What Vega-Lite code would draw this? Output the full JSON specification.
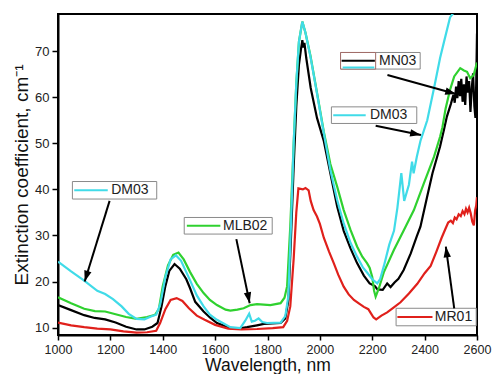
{
  "$schema": "https://vega.github.io/schema/vega-lite/v6.json",
  "width": 419,
  "height": 321,
  "autosize": {"type": "none"},
  "padding": {"left": 58, "top": 14, "right": 15, "bottom": 39},
  "background": "white",
  "config": {
    "font": "Liberation Sans",
    "view": {"stroke": "black", "strokeWidth": 2}
  },
  "datasets": {
    "spectra": [
      {"s":"MN03","x":1000,"y":14.9},{"s":"MN03","x":1050,"y":13.8},{"s":"MN03","x":1100,"y":12.7},{"s":"MN03","x":1140,"y":12.1},{"s":"MN03","x":1180,"y":11.8},{"s":"MN03","x":1220,"y":11.1},{"s":"MN03","x":1260,"y":10.2},{"s":"MN03","x":1300,"y":9.6},{"s":"MN03","x":1330,"y":9.6},{"s":"MN03","x":1360,"y":10.2},{"s":"MN03","x":1380,"y":11},{"s":"MN03","x":1395,"y":14.5},{"s":"MN03","x":1410,"y":19},{"s":"MN03","x":1425,"y":22.3},{"s":"MN03","x":1445,"y":23.8},{"s":"MN03","x":1465,"y":22.8},{"s":"MN03","x":1490,"y":20.5},{"s":"MN03","x":1504,"y":18.6},{"s":"MN03","x":1524,"y":15.6},{"s":"MN03","x":1556,"y":13.5},{"s":"MN03","x":1580,"y":12.2},{"s":"MN03","x":1607,"y":11.0},{"s":"MN03","x":1658,"y":9.9},{"s":"MN03","x":1700,"y":9.9},{"s":"MN03","x":1722,"y":10.1},{"s":"MN03","x":1760,"y":10.5},{"s":"MN03","x":1786,"y":10.8},{"s":"MN03","x":1850,"y":11.0},{"s":"MN03","x":1868,"y":12},{"s":"MN03","x":1880,"y":16},{"s":"MN03","x":1890,"y":30},{"s":"MN03","x":1900,"y":45},{"s":"MN03","x":1910,"y":58},{"s":"MN03","x":1920,"y":67},{"s":"MN03","x":1928,"y":70.5},{"s":"MN03","x":1933,"y":72.4},{"s":"MN03","x":1937,"y":70.8},{"s":"MN03","x":1941,"y":71.8},{"s":"MN03","x":1948,"y":68.5},{"s":"MN03","x":1965,"y":62},{"s":"MN03","x":1989,"y":55.5},{"s":"MN03","x":2015,"y":50.5},{"s":"MN03","x":2040,"y":43.5},{"s":"MN03","x":2066,"y":36.3},{"s":"MN03","x":2091,"y":31.0},{"s":"MN03","x":2117,"y":27.2},{"s":"MN03","x":2142,"y":24.0},{"s":"MN03","x":2168,"y":21.3},{"s":"MN03","x":2190,"y":19.6},{"s":"MN03","x":2210,"y":19.0},{"s":"MN03","x":2220,"y":18.3},{"s":"MN03","x":2240,"y":18.2},{"s":"MN03","x":2257,"y":19.6},{"s":"MN03","x":2270,"y":18.8},{"s":"MN03","x":2285,"y":19.8},{"s":"MN03","x":2300,"y":20.6},{"s":"MN03","x":2320,"y":22.5},{"s":"MN03","x":2347,"y":26.1},{"s":"MN03","x":2370,"y":29.8},{"s":"MN03","x":2384,"y":31.9},{"s":"MN03","x":2410,"y":38.5},{"s":"MN03","x":2430,"y":43.5},{"s":"MN03","x":2449,"y":47.3},{"s":"MN03","x":2459,"y":49.3},{"s":"MN03","x":2474,"y":53},{"s":"MN03","x":2485,"y":55.8},{"s":"MN03","x":2500,"y":58.5},{"s":"MN03","x":2510,"y":60.5},{"s":"MN03","x":2515,"y":58.8},{"s":"MN03","x":2520,"y":62.3},{"s":"MN03","x":2525,"y":59.8},{"s":"MN03","x":2530,"y":63.5},{"s":"MN03","x":2535,"y":60.2},{"s":"MN03","x":2540,"y":64.0},{"s":"MN03","x":2545,"y":59.0},{"s":"MN03","x":2550,"y":62.8},{"s":"MN03","x":2555,"y":58.3},{"s":"MN03","x":2560,"y":64.5},{"s":"MN03","x":2565,"y":61},{"s":"MN03","x":2570,"y":63.5},{"s":"MN03","x":2575,"y":56.8},{"s":"MN03","x":2580,"y":62},{"s":"MN03","x":2585,"y":65.2},{"s":"MN03","x":2590,"y":58},{"s":"MN03","x":2594,"y":55.5},{"s":"MN03","x":2597,"y":63},{"s":"MN03","x":2600,"y":73.8},

      {"s":"MR01","x":1000,"y":11.1},{"s":"MR01","x":1050,"y":10.5},{"s":"MR01","x":1100,"y":10.1},{"s":"MR01","x":1150,"y":9.8},{"s":"MR01","x":1200,"y":9.6},{"s":"MR01","x":1250,"y":9.2},{"s":"MR01","x":1300,"y":8.9},{"s":"MR01","x":1340,"y":9.0},{"s":"MR01","x":1375,"y":9.3},{"s":"MR01","x":1390,"y":11},{"s":"MR01","x":1410,"y":14},{"s":"MR01","x":1430,"y":16},{"s":"MR01","x":1453,"y":16.4},{"s":"MR01","x":1475,"y":15.8},{"s":"MR01","x":1500,"y":14.2},{"s":"MR01","x":1530,"y":12.6},{"s":"MR01","x":1560,"y":11.7},{"s":"MR01","x":1600,"y":10.6},{"s":"MR01","x":1650,"y":9.8},{"s":"MR01","x":1700,"y":9.6},{"s":"MR01","x":1760,"y":9.7},{"s":"MR01","x":1820,"y":9.9},{"s":"MR01","x":1860,"y":10.1},{"s":"MR01","x":1875,"y":11.5},{"s":"MR01","x":1887,"y":14.6},{"s":"MR01","x":1900,"y":25},{"s":"MR01","x":1910,"y":35},{"s":"MR01","x":1918,"y":40.2},{"s":"MR01","x":1935,"y":40.0},{"s":"MR01","x":1945,"y":40.3},{"s":"MR01","x":1957,"y":39.8},{"s":"MR01","x":1965,"y":37.5},{"s":"MR01","x":1976,"y":35.5},{"s":"MR01","x":1989,"y":34.1},{"s":"MR01","x":2000,"y":32.5},{"s":"MR01","x":2015,"y":29.5},{"s":"MR01","x":2035,"y":26.5},{"s":"MR01","x":2053,"y":24.0},{"s":"MR01","x":2070,"y":21.5},{"s":"MR01","x":2091,"y":18.9},{"s":"MR01","x":2110,"y":17.2},{"s":"MR01","x":2130,"y":16.0},{"s":"MR01","x":2150,"y":15.2},{"s":"MR01","x":2168,"y":14.5},{"s":"MR01","x":2185,"y":14.0},{"s":"MR01","x":2195,"y":13.1},{"s":"MR01","x":2205,"y":12.2},{"s":"MR01","x":2215,"y":11.8},{"s":"MR01","x":2235,"y":12.6},{"s":"MR01","x":2257,"y":13.3},{"s":"MR01","x":2280,"y":14.3},{"s":"MR01","x":2308,"y":15.5},{"s":"MR01","x":2340,"y":17.4},{"s":"MR01","x":2372,"y":19.5},{"s":"MR01","x":2400,"y":21.8},{"s":"MR01","x":2423,"y":23.4},{"s":"MR01","x":2445,"y":26.5},{"s":"MR01","x":2465,"y":29.5},{"s":"MR01","x":2480,"y":31.5},{"s":"MR01","x":2490,"y":32.8},{"s":"MR01","x":2500,"y":33.2},{"s":"MR01","x":2508,"y":32.7},{"s":"MR01","x":2515,"y":33.9},{"s":"MR01","x":2522,"y":33.5},{"s":"MR01","x":2530,"y":34.6},{"s":"MR01","x":2538,"y":34.2},{"s":"MR01","x":2545,"y":35.3},{"s":"MR01","x":2552,"y":34.6},{"s":"MR01","x":2558,"y":35.8},{"s":"MR01","x":2564,"y":35.0},{"s":"MR01","x":2570,"y":36.0},{"s":"MR01","x":2576,"y":34.8},{"s":"MR01","x":2582,"y":33.0},{"s":"MR01","x":2588,"y":32.2},{"s":"MR01","x":2593,"y":35.5},{"s":"MR01","x":2597,"y":36.5},{"s":"MR01","x":2600,"y":38.3},

      {"s":"MLB02","x":1000,"y":16.6},{"s":"MLB02","x":1050,"y":15.3},{"s":"MLB02","x":1100,"y":14.1},{"s":"MLB02","x":1141,"y":13.6},{"s":"MLB02","x":1180,"y":13.5},{"s":"MLB02","x":1220,"y":12.9},{"s":"MLB02","x":1260,"y":12.3},{"s":"MLB02","x":1300,"y":11.9},{"s":"MLB02","x":1340,"y":12.3},{"s":"MLB02","x":1371,"y":12.8},{"s":"MLB02","x":1385,"y":14},{"s":"MLB02","x":1400,"y":19},{"s":"MLB02","x":1420,"y":23.5},{"s":"MLB02","x":1440,"y":25.8},{"s":"MLB02","x":1460,"y":26.3},{"s":"MLB02","x":1480,"y":24.8},{"s":"MLB02","x":1504,"y":22.1},{"s":"MLB02","x":1530,"y":19.5},{"s":"MLB02","x":1556,"y":17.5},{"s":"MLB02","x":1580,"y":16},{"s":"MLB02","x":1607,"y":14.9},{"s":"MLB02","x":1640,"y":13.9},{"s":"MLB02","x":1658,"y":13.7},{"s":"MLB02","x":1685,"y":13.9},{"s":"MLB02","x":1709,"y":14.2},{"s":"MLB02","x":1735,"y":14.9},{"s":"MLB02","x":1760,"y":15.1},{"s":"MLB02","x":1811,"y":14.9},{"s":"MLB02","x":1850,"y":15.3},{"s":"MLB02","x":1865,"y":16.5},{"s":"MLB02","x":1875,"y":19},{"s":"MLB02","x":1887,"y":32},{"s":"MLB02","x":1900,"y":50},{"s":"MLB02","x":1910,"y":63},{"s":"MLB02","x":1920,"y":72},{"s":"MLB02","x":1933,"y":76.4},{"s":"MLB02","x":1945,"y":74},{"s":"MLB02","x":1964,"y":69},{"s":"MLB02","x":1989,"y":61},{"s":"MLB02","x":2015,"y":52.5},{"s":"MLB02","x":2040,"y":45.5},{"s":"MLB02","x":2066,"y":40.6},{"s":"MLB02","x":2091,"y":35.5},{"s":"MLB02","x":2117,"y":31.2},{"s":"MLB02","x":2142,"y":27.6},{"s":"MLB02","x":2162,"y":25.4},{"s":"MLB02","x":2180,"y":24.0},{"s":"MLB02","x":2190,"y":23.0},{"s":"MLB02","x":2200,"y":21},{"s":"MLB02","x":2207,"y":18},{"s":"MLB02","x":2213,"y":16.7},{"s":"MLB02","x":2225,"y":18.5},{"s":"MLB02","x":2244,"y":22},{"s":"MLB02","x":2283,"y":26.9},{"s":"MLB02","x":2321,"y":31.2},{"s":"MLB02","x":2359,"y":35.5},{"s":"MLB02","x":2397,"y":41.3},{"s":"MLB02","x":2436,"y":47.1},{"s":"MLB02","x":2459,"y":51.4},{"s":"MLB02","x":2468,"y":53.5},{"s":"MLB02","x":2480,"y":57.5},{"s":"MLB02","x":2497,"y":61.6},{"s":"MLB02","x":2513,"y":64.5},{"s":"MLB02","x":2536,"y":66.3},{"s":"MLB02","x":2550,"y":65.8},{"s":"MLB02","x":2562,"y":65.5},{"s":"MLB02","x":2574,"y":64.1},{"s":"MLB02","x":2587,"y":64.8},{"s":"MLB02","x":2600,"y":67.5},

      {"s":"DM03","x":1000,"y":24.3},{"s":"DM03","x":1050,"y":22.2},{"s":"DM03","x":1100,"y":20.2},{"s":"DM03","x":1150,"y":18.0},{"s":"DM03","x":1180,"y":17.3},{"s":"DM03","x":1210,"y":16.2},{"s":"DM03","x":1243,"y":14.6},{"s":"DM03","x":1270,"y":13.0},{"s":"DM03","x":1300,"y":11.9},{"s":"DM03","x":1330,"y":11.8},{"s":"DM03","x":1355,"y":12.4},{"s":"DM03","x":1375,"y":12.8},{"s":"DM03","x":1390,"y":15},{"s":"DM03","x":1410,"y":21},{"s":"DM03","x":1430,"y":24.8},{"s":"DM03","x":1450,"y":25.7},{"s":"DM03","x":1470,"y":24.5},{"s":"DM03","x":1504,"y":20.3},{"s":"DM03","x":1530,"y":17},{"s":"DM03","x":1556,"y":14.6},{"s":"DM03","x":1580,"y":12.8},{"s":"DM03","x":1607,"y":11.7},{"s":"DM03","x":1658,"y":10.1},{"s":"DM03","x":1696,"y":9.9},{"s":"DM03","x":1715,"y":11.5},{"s":"DM03","x":1730,"y":13.0},{"s":"DM03","x":1740,"y":11.3},{"s":"DM03","x":1752,"y":11.5},{"s":"DM03","x":1766,"y":12.0},{"s":"DM03","x":1780,"y":11.2},{"s":"DM03","x":1798,"y":11.0},{"s":"DM03","x":1850,"y":11.1},{"s":"DM03","x":1868,"y":12.5},{"s":"DM03","x":1880,"y":17},{"s":"DM03","x":1890,"y":33},{"s":"DM03","x":1900,"y":50},{"s":"DM03","x":1910,"y":63},{"s":"DM03","x":1920,"y":72},{"s":"DM03","x":1933,"y":76.4},{"s":"DM03","x":1945,"y":74},{"s":"DM03","x":1964,"y":68.8},{"s":"DM03","x":1989,"y":60.8},{"s":"DM03","x":2015,"y":52.2},{"s":"DM03","x":2040,"y":44.2},{"s":"DM03","x":2066,"y":37.7},{"s":"DM03","x":2091,"y":32.6},{"s":"DM03","x":2117,"y":28.4},{"s":"DM03","x":2142,"y":25.4},{"s":"DM03","x":2165,"y":23},{"s":"DM03","x":2181,"y":21.9},{"s":"DM03","x":2200,"y":20.5},{"s":"DM03","x":2219,"y":19.6},{"s":"DM03","x":2230,"y":20.5},{"s":"DM03","x":2245,"y":23.5},{"s":"DM03","x":2265,"y":28},{"s":"DM03","x":2283,"y":31},{"s":"DM03","x":2296,"y":36},{"s":"DM03","x":2311,"y":43.5},{"s":"DM03","x":2322,"y":37.5},{"s":"DM03","x":2340,"y":41},{"s":"DM03","x":2352,"y":46},{"s":"DM03","x":2358,"y":43.5},{"s":"DM03","x":2370,"y":47},{"s":"DM03","x":2384,"y":50.5},{"s":"DM03","x":2410,"y":55},{"s":"DM03","x":2436,"y":62},{"s":"DM03","x":2459,"y":68.5},{"s":"DM03","x":2474,"y":72},{"s":"DM03","x":2497,"y":77.3},{"s":"DM03","x":2510,"y":78.3},{"s":"DM03","x":2530,"y":78.5}
    ],
    "boxes": [
      {"label":"DM03a","x":1055,"x2":1377,"y":37.9,"y2":41.7},
      {"label":"MLB02","x":1482,"x2":1818,"y":30.3,"y2":33.9},
      {"label":"MN03","x":2079,"x2":2383,"y":66.1,"y2":69.7},
      {"label":"DM03b","x":2044,"x2":2370,"y":54.3,"y2":57.9},
      {"label":"MR01","x":2291,"x2":2597,"y":10.4,"y2":14.2}
    ],
    "inner": [
      {"x":2079,"x2":2213,"y":66.1,"y2":69.7}
    ],
    "samples": [
      {"s":"DM03","x":1062,"x2":1190,"y":39.8},
      {"s":"MLB02","x":1492,"x2":1620,"y":32.1},
      {"s":"MN03","x":2083,"x2":2210,"y":67.9},
      {"s":"DM03","x":2087,"x2":2208,"y":66.45},
      {"s":"DM03","x":2051,"x2":2175,"y":56.1},
      {"s":"MR01","x":2296,"x2":2430,"y":12.3}
    ],
    "texts": [
      {"t":"DM03","x":1203,"y":39.8},
      {"t":"MLB02","x":1630,"y":32.1},
      {"t":"MN03","x":2226,"y":67.9},
      {"t":"DM03","x":2191,"y":56.1},
      {"t":"MR01","x":2439,"y":12.3}
    ],
    "arrows": [
      {"x":1197,"y":37.5,"x2":1102,"y2":20.0,"angle":197},
      {"x":1681,"y":29.2,"x2":1732,"y2":15.3,"angle":168.3},
      {"x":2258,"y":64.8,"x2":2520,"y2":60.7,"angle":105.5},
      {"x":2213,"y":53.8,"x2":2386,"y2":51.8,"angle":101.3},
      {"x":2513,"y":14.2,"x2":2481,"y2":27.6,"angle":352.3}
    ]
  },
  "layer": [
    {
      "data": {"name": "spectra"},
      "transform": [{"filter": "datum.s === 'MN03'"}],
      "mark": {"type": "line", "strokeWidth": 2.2, "color": "#000000", "clip": true},
      "encoding": {
        "x": {
          "field": "x", "type": "quantitative",
          "scale": {"domain": [1000, 2600], "nice": false, "zero": false},
          "axis": {
            "values": [1000,1100,1200,1300,1400,1500,1600,1700,1800,1900,2000,2100,2200,2300,2400,2500,2600],
            "format": "d",
            "labelExpr": "datum.value % 200 === 0 ? datum.label : ''",
            "tickSize": {"condition": {"test": "datum.value % 200 === 0", "value": 5}, "value": 3},
            "tickColor": "#000", "tickWidth": 1.5,
            "domainColor": "#000", "domainWidth": 2,
            "grid": false,
            "labelFontSize": 12.5, "labelColor": "#222", "labelPadding": 3,
            "labelFlush": false, "labelOverlap": false,
            "title": "Wavelength, nm", "titleFontSize": 17.5, "titleFontWeight": "normal",
            "titleColor": "#111", "titlePadding": 1
          }
        },
        "y": {
          "field": "y", "type": "quantitative",
          "scale": {"domain": [8.4, 78.05], "nice": false, "zero": false},
          "axis": {
            "values": [10,15,20,25,30,35,40,45,50,55,60,65,70,75],
            "labelExpr": "datum.value % 10 === 0 ? datum.label : ''",
            "tickSize": {"condition": {"test": "datum.value % 10 === 0", "value": 6}, "value": 3},
            "tickColor": "#000", "tickWidth": 1.5,
            "domainColor": "#000", "domainWidth": 2,
            "grid": false,
            "labelFontSize": 13, "labelColor": "#222", "labelPadding": 3,
            "labelFlush": false, "labelOverlap": false,
            "title": "Extinction coefficient, cm⁻¹", "titleFontSize": 19, "titleFontWeight": "normal",
            "titleColor": "#111", "titlePadding": 3
          }
        }
      }
    },
    {
      "data": {"name": "spectra"},
      "transform": [{"filter": "datum.s === 'MR01'"}],
      "mark": {"type": "line", "strokeWidth": 2.2, "color": "#e0201b", "clip": true},
      "encoding": {"x": {"field": "x", "type": "quantitative"}, "y": {"field": "y", "type": "quantitative"}}
    },
    {
      "data": {"name": "spectra"},
      "transform": [{"filter": "datum.s === 'MLB02'"}],
      "mark": {"type": "line", "strokeWidth": 2.2, "color": "#2fd12f", "clip": true},
      "encoding": {"x": {"field": "x", "type": "quantitative"}, "y": {"field": "y", "type": "quantitative"}}
    },
    {
      "data": {"name": "spectra"},
      "transform": [{"filter": "datum.s === 'DM03'"}],
      "mark": {"type": "line", "strokeWidth": 2.2, "color": "#40dbe8", "clip": true},
      "encoding": {"x": {"field": "x", "type": "quantitative"}, "y": {"field": "y", "type": "quantitative"}}
    },
    {
      "data": {"name": "boxes"},
      "mark": {"type": "rect", "fill": "white", "stroke": "#8a8a8a", "strokeWidth": 1},
      "encoding": {
        "x": {"field": "x", "type": "quantitative"}, "x2": {"field": "x2"},
        "y": {"field": "y", "type": "quantitative"}, "y2": {"field": "y2"}
      }
    },
    {
      "data": {"name": "inner"},
      "mark": {"type": "rect", "fill": "white", "stroke": "#a06a66", "strokeWidth": 1},
      "encoding": {
        "x": {"field": "x", "type": "quantitative"}, "x2": {"field": "x2"},
        "y": {"field": "y", "type": "quantitative"}, "y2": {"field": "y2"}
      }
    },
    {
      "data": {"name": "samples"},
      "mark": {"type": "rule", "strokeWidth": 2},
      "encoding": {
        "x": {"field": "x", "type": "quantitative"}, "x2": {"field": "x2"},
        "y": {"field": "y", "type": "quantitative"},
        "color": {"field": "s", "type": "nominal", "scale": {"domain": ["MN03","MR01","MLB02","DM03"], "range": ["#000000","#e0201b","#2fd12f","#40dbe8"]}, "legend": null}
      }
    },
    {
      "data": {"name": "texts"},
      "mark": {"type": "text", "align": "left", "baseline": "middle", "fontSize": 14, "color": "#222"},
      "encoding": {
        "x": {"field": "x", "type": "quantitative"},
        "y": {"field": "y", "type": "quantitative"},
        "text": {"field": "t"}
      }
    },
    {
      "data": {"name": "arrows"},
      "mark": {"type": "rule", "strokeWidth": 2, "color": "#000", "strokeCap": "butt"},
      "encoding": {
        "x": {"field": "x", "type": "quantitative"}, "x2": {"field": "x2"},
        "y": {"field": "y", "type": "quantitative"}, "y2": {"field": "y2"}
      }
    },
    {
      "data": {"name": "arrows"},
      "mark": {"type": "point", "filled": true, "color": "#000", "opacity": 1, "size": 130, "shape": "M0,0L0.65,1.9L-0.65,1.9Z"},
      "encoding": {
        "x": {"field": "x2", "type": "quantitative"},
        "y": {"field": "y2", "type": "quantitative"},
        "angle": {"field": "angle", "type": "quantitative", "scale": null}
      }
    }
  ]
}
